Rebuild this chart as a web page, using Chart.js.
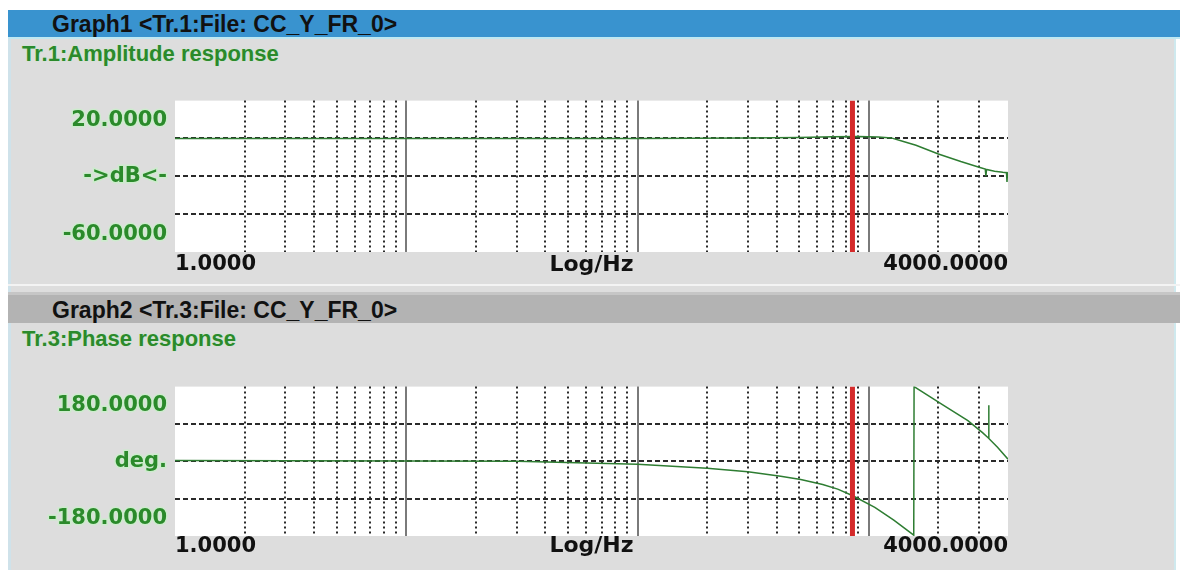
<!DOCTYPE html>
<html>
<head>
<meta charset="utf-8">
<script src="https://cdn.jsdelivr.net/npm/chart.js@4.4.1/dist/chart.umd.min.js"></script>
<style>
    body { margin: 0; width: 1180px; height: 570px; background: #fff; overflow: hidden; position: relative; }
    .janela { position: absolute; left: 8px; top: 10px; width: 1168px; height: 560px; background: #dddddd;
        border-left: 3px solid #cfe2ea; border-right: 2px solid #cfe9ee; box-sizing: border-box; }
    .cabecalho { position: absolute; left: 8px; width: 1172px; height: 27px; padding-left: 44px; box-sizing: border-box;
        font: bold 23px "Liberation Sans", Arial, sans-serif; line-height: 27px; color: #111; }
    #cab1 { top: 10px; background: #3993cf; border-bottom: 2px solid #bfe8f2; height: 29px; padding-top: 1px; line-height: 27px; }
    #cab2 { top: 295px; background: #b3b3b3; height: 28px; padding-top: 2px; line-height: 26px; }
    .separador { position: absolute; left: 8px; top: 284px; width: 1172px; height: 11px; box-sizing: border-box;
        border-top: 2px solid #f3f3f3; border-bottom: 3px solid #c6c6c6; }
    .titulo { position: absolute; left: 22px; font: bold 22px "Liberation Sans", Arial, sans-serif; line-height: 22px;
        color: #2b8a2b; text-shadow: 0 0 2px #c2efc2; }
    #tit1 { top: 43px; }
    #tit2 { top: 328px; }
    canvas { position: absolute; left: 0; }
    #grafico-amplitude { top: 80px; }
    #grafico-fase { top: 366px; }
</style>
</head>
<body>
<div class="janela"></div>
<div class="cabecalho" id="cab1">Graph1 &lt;Tr.1:File: CC_Y_FR_0&gt;</div>
<div class="titulo" id="tit1">Tr.1:Amplitude response</div>
<div class="separador"></div>
<div class="cabecalho" id="cab2">Graph2 &lt;Tr.3:File: CC_Y_FR_0&gt;</div>
<div class="titulo" id="tit2">Tr.3:Phase response</div>
<canvas id="grafico-amplitude" width="1180" height="200"></canvas>
<canvas id="grafico-fase" width="1180" height="200"></canvas>
<script>
// eixo x (Hz, log)
const freqMin = 1;
const freqMax = 4000;
const gradeFreq = [1, 2, 3, 4, 5, 6, 7, 8, 9, 10, 20, 30, 40, 50, 60, 70, 80, 90,
    100, 200, 300, 400, 500, 600, 700, 800, 900, 1000, 2000, 3000, 4000];
const decadas = [10, 100, 1000];
const cursorHz = 850;

// amplitude (dB)
const ampMin = -60;
const ampMax = 20;
const ampGrade = [0, -20, -40];
const ampRotulos = ['20.0000', '->dB<-', '-60.0000'];
const ampFreq = [1, 10, 100, 300, 500, 700, 900, 1100, 1250, 1400, 1600, 2000, 2500, 3000,
    3190, 3210, 3230, 3500, 3800, 3940, 3960, 3980, 4000];
const ampDb = [0, 0, 0, 0.2, 0.5, 0.9, 1.0, 0.8, 0.3, -1.5, -3.6, -8.2, -12.2, -15.2,
    -16.2, -20.0, -16.4, -17.3, -17.9, -18.1, -23.0, -18.2, -18.4];

// fase (graus)
const faseMin = -180;
const faseMax = 180;
const faseGrade = [90, 0, -90];
const faseRotulos = ['180.0000', 'deg.', '-180.0000'];
const faseFreq = [1, 10, 30, 100, 200, 300, 416, 508, 632, 734, 853, 1062, 1283, 1565,
    1570, 2090, 2683, 3104, 3290, 3300, 3310, 3603, 4000];
const faseDeg = [2, 1, 0, -7, -17, -25, -36, -44, -56, -67, -83, -111, -142, -178,
    180, 136, 98, 69, 56, 135, 55, 34, 5];

const fonteNum = "'DejaVu Sans', sans-serif";
const corGrade = '#2a2a2a';

const fundoBranco = {
    id: 'fundoBranco',
    beforeDraw(chart) {
        const { ctx, chartArea } = chart;
        ctx.save();
        ctx.fillStyle = '#ffffff';
        ctx.fillRect(chartArea.left, chartArea.top, chartArea.width, chartArea.height);
        ctx.restore();
    }
};

function marcasY(min, max, grade, rotulos) {
    const faixa = max - min;
    const marcas = grade.map((v) => ({ value: v, grade: true }));
    marcas.push({ value: max - faixa * 0.13, texto: rotulos[0] });
    marcas.push({ value: (max + min) / 2, texto: rotulos[1] });
    marcas.push({ value: min + faixa * 0.115, texto: rotulos[2] });
    return marcas;
}

function ehDecada(c) {
    return c.tick && decadas.includes(c.tick.value);
}

function criaGrafico(canvas, cfg) {
    return new Chart(canvas, {
        type: 'line',
        data: {
            datasets: [{
                data: [{ x: cursorHz, y: cfg.max }, { x: cursorHz, y: cfg.min }],
                borderColor: '#d42a2a',
                borderWidth: 5,
                pointRadius: 0
            }, {
                data: cfg.freq.map((f, i) => ({ x: f, y: cfg.valores[i] })),
                borderColor: '#2e7d32',
                borderWidth: 1.5,
                pointRadius: 0,
                tension: 0
            }]
        },
        options: {
            responsive: false,
            animation: false,
            layout: { padding: { top: 17, right: 172, left: 0, bottom: 0 } },
            plugins: { legend: { display: false }, tooltip: { enabled: false } },
            scales: {
                x: {
                    type: 'logarithmic',
                    min: freqMin,
                    max: freqMax,
                    afterBuildTicks: (eixo) => { eixo.ticks = gradeFreq.map((v) => ({ value: v })); },
                    afterFit: (eixo) => { eixo.height = cfg.alturaX; },
                    grid: {
                        drawTicks: false,
                        color: (c) => {
                            if (!c.tick || c.tick.value === freqMin || c.tick.value === freqMax) return 'rgba(0,0,0,0)';
                            return ehDecada(c) ? '#7a7a7a' : corGrade;
                        },
                        lineWidth: 2
                    },
                    border: { display: false, dash: (c) => ehDecada(c) ? [] : [2, 3] },
                    ticks: {
                        autoSkip: false,
                        maxRotation: 0,
                        align: 'inner',
                        padding: cfg.padX,
                        color: '#111',
                        font: { family: fonteNum, size: 21, weight: 'bold', lineHeight: 1 },
                        callback: (v, i, t) => (i === 0 || i === t.length - 1) ? Number(t[i].value).toFixed(4) : ''
                    },
                    title: {
                        display: true,
                        text: 'Log/Hz',
                        color: '#111',
                        font: { family: fonteNum, size: 22, weight: 'bold', lineHeight: 1 },
                        padding: { top: 0, bottom: cfg.padTitulo }
                    }
                },
                y: {
                    min: cfg.min,
                    max: cfg.max,
                    afterBuildTicks: (eixo) => { eixo.ticks = marcasY(cfg.min, cfg.max, cfg.grade, cfg.rotulos); },
                    afterFit: (eixo) => { eixo.width = 175; },
                    grid: {
                        drawTicks: false,
                        lineWidth: 2,
                        color: (c) => c.tick && c.tick.grade ? corGrade : 'rgba(0,0,0,0)'
                    },
                    border: { display: false, dash: [5, 3] },
                    ticks: {
                        padding: 8,
                        color: '#2b8a2b',
                        textStrokeColor: '#cdeccd',
                        textStrokeWidth: 3,
                        font: { family: fonteNum, size: 21, weight: 'bold' },
                        callback: (v, i, t) => t[i].texto || ''
                    }
                }
            }
        },
        plugins: [fundoBranco]
    });
}

const graficoAmplitude = criaGrafico(document.querySelector('#grafico-amplitude'), {
    min: ampMin, max: ampMax, grade: ampGrade, rotulos: ampRotulos,
    freq: ampFreq, valores: ampDb,
    alturaX: 28, padX: 2.5, padTitulo: 4
});

const graficoFase = criaGrafico(document.querySelector('#grafico-fase'), {
    min: faseMin, max: faseMax, grade: faseGrade, rotulos: faseRotulos,
    freq: faseFreq, valores: faseDeg,
    alturaX: 30, padX: 0, padTitulo: 9
});
</script>
</body>
</html>
